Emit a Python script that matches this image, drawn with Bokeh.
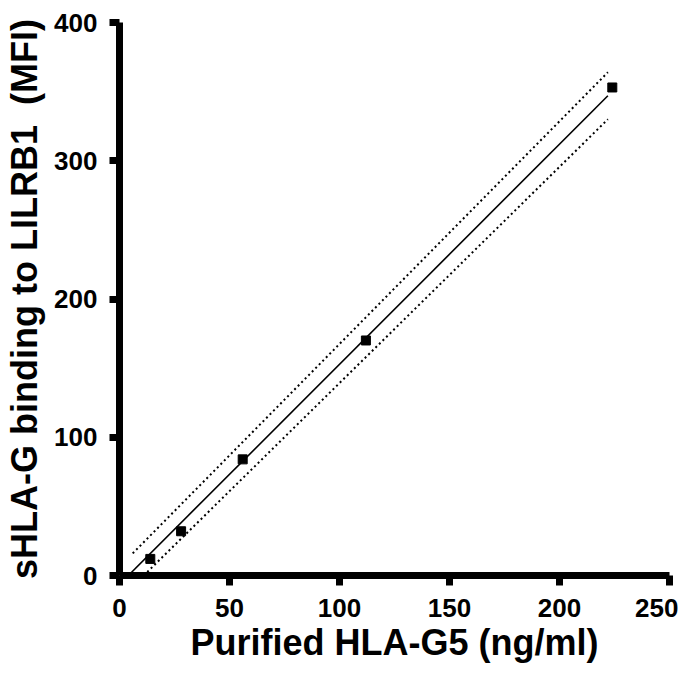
from bokeh.plotting import figure
from bokeh.models import Range1d, FixedTicker
from bokeh.embed import file_html
from bokeh.resources import INLINE

# Data
conc = [14, 28, 56, 112, 224]          # Purified HLA-G5 (ng/ml)
mfi = [12, 32, 84, 170, 353]           # sHLA-G binding (MFI)

fit_x = [4, 222]
fit_y = [0, 347]
upper_x = [6, 222]
upper_y = [16, 364]
lower_x = [11, 222]
lower_y = [0, 330]

x_ticks = [0, 50, 100, 150, 200, 250]
y_ticks = [0, 100, 200, 300, 400]

p = figure(width=678, height=665, output_backend="svg", toolbar_location=None,
           x_range=Range1d(0, 250), y_range=Range1d(0, 400),
           min_border_left=119, min_border_right=9, min_border_top=22,
           min_border_bottom=87)

p.line(fit_x, fit_y, line_color="black", line_width=1.6)
p.line(upper_x, upper_y, line_color="black", line_width=2, line_dash="2 3")
p.line(lower_x, lower_y, line_color="black", line_width=2, line_dash="2 3")
p.scatter(conc, mfi, marker="square", size=9, color="black")

p.xgrid.visible = False
p.ygrid.visible = False
p.outline_line_color = None
p.background_fill_color = "white"
p.border_fill_color = "white"

for ax in (p.xaxis[0], p.yaxis[0]):
    ax.axis_line_width = 7
    ax.axis_line_color = "black"
    ax.major_tick_line_width = 7
    ax.major_tick_line_color = "black"
    ax.major_tick_out = 10
    ax.major_tick_in = 0
    ax.minor_tick_line_color = None
    ax.major_label_text_font = "Liberation Sans"
    ax.major_label_text_font_style = "bold"
    ax.major_label_text_font_size = "26px"
    ax.major_label_text_color = "black"
    ax.axis_label_text_font = "Liberation Sans"
    ax.axis_label_text_font_style = "bold"
    ax.axis_label_text_font_size = "36px"
    ax.axis_label_text_color = "black"

p.xaxis.ticker = FixedTicker(ticks=x_ticks)
p.yaxis.ticker = FixedTicker(ticks=y_ticks)
p.xaxis.axis_label = "Purified HLA-G5 (ng/ml)"
p.yaxis.axis_label = "sHLA-G binding to LILRB1\u00a0 (MFI)"
p.xaxis.major_label_standoff = 13
p.yaxis.major_label_standoff = 12
p.xaxis.axis_label_standoff = 2
p.yaxis.axis_label_standoff = 6

open("out.html", "w").write(file_html(p, INLINE))
